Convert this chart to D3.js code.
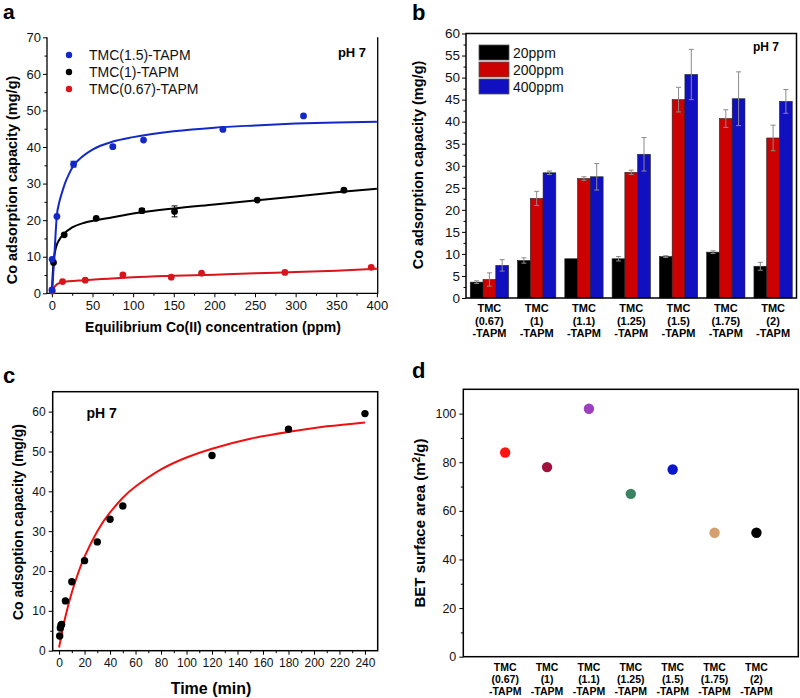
<!DOCTYPE html>
<html><head><meta charset="utf-8">
<script src="https://cdn.jsdelivr.net/npm/d3@7"></script>
<style>body{margin:0;background:#fff} svg text{font-family:Arial,"Liberation Sans",Helvetica,sans-serif}</style>
</head><body><svg id="chart" width="800" height="698"></svg>
<script>
// ---------------- DATA ----------------
// Panel a: adsorption isotherms
const isoNames = ["TMC(1.5)-TAPM", "TMC(1)-TAPM", "TMC(0.67)-TAPM"];
const isoBlueC = [0.1, 0.3, 6.2, 26.7, 75, 112.8, 210.5, 309.7];
const isoBlueQ = [0.9, 9.3, 21.0, 35.3, 40.1, 41.9, 44.8, 48.5];
const isoBlueErr = [0, 0, 0, 0.8, 0.4, 0, 0.3, 0];
const isoBlackC = [2, 15.2, 54.6, 110.8, 151, 252.7, 359.4];
const isoBlackQ = [8.4, 16.0, 20.5, 22.6, 22.4, 25.5, 28.2];
const isoBlackErr = [0, 0, 0, 0.6, 1.5, 0, 0];
const isoRedC = [0.5, 13.1, 41, 87.4, 146.9, 184.2, 286.8, 393];
const isoRedQ = [0.6, 3.2, 3.6, 5.0, 4.4, 5.5, 5.7, 7.1];
// fitted curves
const fitBlueC = [0, 1, 3, 6, 9, 12, 16, 21, 27, 35, 50, 75, 100, 150, 200, 250, 300, 350, 400];
const fitBlueQ = [0, 3, 10, 21, 24.8, 27.2, 30.0, 32.6, 35.0, 36.9, 39.3, 41.5, 42.7, 44.3, 45.3, 45.9, 46.4, 46.7, 46.9];
const fitBlackC = [0, 1, 2, 4, 6, 9, 15, 25, 40, 55, 75, 100, 150, 200, 250, 300, 350, 400];
const fitBlackQ = [0, 5, 8.5, 11.5, 13.2, 14.6, 16.3, 18.0, 19.3, 20.0, 20.8, 21.8, 23.2, 24.3, 25.4, 26.5, 27.6, 28.6];
const fitRedC = [0, 2, 5, 9, 13, 20, 40, 70, 100, 150, 200, 250, 300, 350, 400];
const fitRedQ = [0, 1.3, 2.2, 2.8, 3.1, 3.3, 3.6, 4.0, 4.4, 4.8, 5.1, 5.5, 5.8, 6.2, 6.7];
const isoXTicks = [0, 50, 100, 150, 200, 250, 300, 350, 400];
const isoYTicks = [0, 10, 20, 30, 40, 50, 60, 70];

// Panel b: bar chart
const samples = ["TMC (0.67) -TAPM", "TMC (1) -TAPM", "TMC (1.1) -TAPM", "TMC (1.25) -TAPM", "TMC (1.5) -TAPM", "TMC (1.75) -TAPM", "TMC (2) -TAPM"];
const concNames = ["20ppm", "200ppm", "400ppm"];
const bar20 = [3.6, 8.5, 8.9, 8.9, 9.4, 10.4, 7.2];
const bar20Err = [0.3, 0.6, 0, 0.5, 0.2, 0.3, 0.9];
const bar200 = [4.2, 22.6, 27.1, 28.5, 45.0, 40.7, 36.3];
const bar200Err = [1.5, 1.6, 0.4, 0.5, 2.8, 2.0, 2.9];
const bar400 = [7.4, 28.4, 27.5, 32.6, 50.7, 45.2, 44.6];
const bar400Err = [1.3, 0.4, 3.0, 3.8, 5.7, 6.1, 2.7];
const barYTicks = [0, 5, 10, 15, 20, 25, 30, 35, 40, 45, 50, 55, 60];

// Panel c: kinetics
const kinT = [0.5, 1, 1.5, 2, 5, 10, 20, 30, 40, 50, 120, 180, 240];
const kinQ = [3.7, 5.7, 6.4, 6.6, 12.5, 17.3, 22.6, 27.3, 33.0, 36.3, 49.0, 55.6, 59.5];
const kinFitT = [0, 2, 5, 10, 15, 20, 30, 40, 50, 60, 80, 100, 120, 150, 180, 210, 240];
const kinFitQ = [0.8, 4.2, 8.6, 14.6, 19.5, 23.6, 30.0, 34.7, 38.4, 41.2, 45.5, 48.5, 50.7, 53.2, 54.9, 56.3, 57.3];
const kinXTicks = [0, 20, 40, 60, 80, 100, 120, 140, 160, 180, 200, 220, 240];
const kinYTicks = [0, 10, 20, 30, 40, 50, 60];

// Panel d: BET surface area
const betVals = [84, 78, 102, 67, 77, 51, 51];
const betYTicks = [0, 20, 40, 60, 80, 100];

// ---------------- STYLE ----------------
const FONT = 'Arial, "Liberation Sans", Helvetica, sans-serif';
const BLUE = "#1428c8", RED = "#d8141c", BLK = "#000";
const barColors = ["#000000", "#cc0000", "#1010c0"];
const betColors = ["#ff1212", "#a2103c", "#9c40c0", "#3a8262", "#0a16c8", "#d4a070", "#000000"];

const svg = d3.select("#chart");

function axis(g, scale, orient, majors, minors, opt) {
  const mk = orient === "left" ? d3.axisLeft : d3.axisBottom;
  const ax = g.append("g").attr("transform", opt.t);
  if (minors && minors.length) ax.append("g").call(mk(scale).tickValues(minors).tickSizeOuter(0).tickSize(opt.minor || 2.5).tickFormat(""));
  ax.append("g").call(mk(scale).tickValues(majors).tickSizeOuter(0).tickSize(opt.major || 5).tickPadding(opt.pad || 2).tickFormat(d3.format("d")));
  ax.selectAll(".domain").remove();
  ax.selectAll("line").attr("stroke", "#000").attr("stroke-width", 1);
  ax.selectAll("text").attr("font-size", opt.fs).attr("font-family", FONT).attr("fill", "#111");
  return ax;
}
function mids(t) { const r = []; for (let i = 0; i < t.length - 1; i++) r.push((t[i] + t[i + 1]) / 2); return r; }
function label(x, y, txt, size, rotate, anchor) {
  const t = svg.append("text").attr("font-family", FONT).attr("font-weight", "bold").attr("font-size", size)
    .attr("text-anchor", anchor || "middle").attr("fill", "#000").text(txt);
  if (rotate) t.attr("transform", `translate(${x},${y}) rotate(-90)`); else t.attr("x", x).attr("y", y);
  return t;
}

// ---------------- PANEL A ----------------
{
  const xA = d3.scaleLinear([-6, 401], [47, 377.7]);
  const yA = d3.scaleLinear([0, 70], [293.3, 37.3]);
  const g = svg.append("g");
  axis(g, yA, "left", isoYTicks, mids(isoYTicks), { t: "translate(47,0)", fs: 13, major: 4, minor: 2.5 });
  axis(g, xA, "bottom", isoXTicks, mids(isoXTicks), { t: "translate(0,293.3)", fs: 13, major: 4, minor: 2.5, pad: 3 });
  g.append("path").attr("d", `M47,37.3V293.3H377.7V37.3`).attr("fill", "none").attr("stroke", "#000").attr("stroke-width", 1.3);

  const line = d3.line().x(d => xA(d[0])).y(d => yA(d[1])).curve(d3.curveMonotoneX);
  const fits = [[fitRedC, fitRedQ, RED], [fitBlackC, fitBlackQ, BLK], [fitBlueC, fitBlueQ, BLUE]];
  fits.forEach(([c, q, col]) => g.append("path").datum(d3.zip(c, q)).attr("d", line)
    .attr("fill", "none").attr("stroke", col).attr("stroke-width", 2));

  const sets = [[isoRedC, isoRedQ, null, RED], [isoBlackC, isoBlackQ, isoBlackErr, BLK], [isoBlueC, isoBlueQ, isoBlueErr, BLUE]];
  sets.forEach(([c, q, e, col]) => {
    const pts = c.map((v, i) => ({ c: v, q: q[i], e: e ? e[i] : 0 }));
    pts.filter(p => p.e > 0).forEach(p => {
      const x = xA(p.c), y1 = yA(p.q - p.e), y2 = yA(p.q + p.e);
      g.append("path").attr("d", `M${x},${y1}V${y2}M${x - 3},${y1}H${x + 3}M${x - 3},${y2}H${x + 3}`)
        .attr("stroke", col).attr("stroke-width", 1).attr("fill", "none");
    });
    g.selectAll(null).data(pts).enter().append("circle")
      .attr("cx", p => xA(p.c)).attr("cy", p => yA(p.q)).attr("r", 3.4).attr("fill", col);
  });

  const legCols = [BLUE, BLK, RED];
  isoNames.forEach((n, i) => {
    const y = 55 + i * 17;
    g.append("circle").attr("cx", 69).attr("cy", y).attr("r", 3.2).attr("fill", legCols[i]);
    g.append("text").attr("x", 89).attr("y", y + 5).attr("font-size", 14).attr("font-family", FONT).attr("fill", "#111").text(n);
  });
  label(352, 57, "pH 7", 13);
  label(213, 332, "Equilibrium Co(II) concentration (ppm)", 14);
  label(17, 180, "Co adsorption capacity (mg/g)", 14.5, true);
  label(3, 18.5, "a", 21, false, "start");
}

// ---------------- PANEL B ----------------
{
  const xB = d3.scaleBand(samples, [466, 796.5]).paddingInner(0.19).paddingOuter(0.09);
  const sub = d3.scaleBand(concNames, [0, xB.bandwidth()]);
  const yB = d3.scaleLinear([0, 60], [298, 33.5]);
  const g = svg.append("g");
  const series = [[bar20, bar20Err], [bar200, bar200Err], [bar400, bar400Err]];
  series.forEach(([vals, errs], k) => {
    const data = samples.map((s, i) => ({ s, v: vals[i], e: errs[i] }));
    g.selectAll(null).data(data).enter().append("rect")
      .attr("x", d => xB(d.s) + sub(concNames[k])).attr("width", sub.bandwidth())
      .attr("y", d => yB(d.v)).attr("height", d => yB(0) - yB(d.v))
      .attr("fill", barColors[k]).attr("stroke", "#222").attr("stroke-width", 0.6);
    data.filter(d => d.e > 0).forEach(d => {
      const x = xB(d.s) + sub(concNames[k]) + sub.bandwidth() / 2;
      const y1 = yB(d.v - d.e), y2 = yB(d.v + d.e);
      g.append("path").attr("d", `M${x},${y1}V${y2}M${x - 2.5},${y1}H${x + 2.5}M${x - 2.5},${y2}H${x + 2.5}`)
        .attr("stroke", "#8a8a8a").attr("stroke-width", 1).attr("fill", "none");
    });
  });
  axis(g, yB, "left", barYTicks, mids(barYTicks), { t: "translate(466,0)", fs: 13.5, major: 4, minor: 2.5 });
  g.append("rect").attr("x", 466).attr("y", 33.5).attr("width", 330.5).attr("height", 264.5)
    .attr("fill", "none").attr("stroke", "#000").attr("stroke-width", 1.5);
  samples.forEach(s => {
    const cx = xB(s) + xB.bandwidth() / 2;
    s.split(" ").forEach((ln, j) => {
      g.append("text").attr("x", cx).attr("y", 312.3 + j * 12.5).attr("text-anchor", "middle")
        .attr("font-size", 11).attr("font-weight", "bold").attr("font-family", FONT).text(ln);
    });
  });
  concNames.forEach((n, i) => {
    const y = 45 + i * 17;
    g.append("rect").attr("x", 479).attr("y", y).attr("width", 30).attr("height", 15)
      .attr("fill", barColors[i]).attr("stroke", "#555").attr("stroke-width", 0.8);
    g.append("text").attr("x", 513).attr("y", y + 12.5).attr("font-size", 14).attr("font-family", FONT).attr("fill", "#111").text(n);
  });
  label(766, 51, "pH 7", 12);
  label(423, 165, "Co adsorption capacity (mg/g)", 14.5, true);
  label(412, 20, "b", 22, false, "start");
}

// ---------------- PANEL C ----------------
{
  const xC = d3.scaleLinear([-5, 250], [52.7, 377.7]);
  const yC = d3.scaleLinear([0, 65], [650.7, 391.7]);
  const g = svg.append("g");
  axis(g, yC, "left", kinYTicks, mids(kinYTicks), { t: "translate(52.7,0)", fs: 12, major: 4, minor: 2.5, pad: 3 });
  axis(g, xC, "bottom", kinXTicks, mids(kinXTicks), { t: "translate(0,650.7)", fs: 12, major: 4, minor: 2.5, pad: 4 });
  g.append("rect").attr("x", 52.7).attr("y", 391.7).attr("width", 325).attr("height", 259)
    .attr("fill", "none").attr("stroke", "#000").attr("stroke-width", 1.5);
  const line = d3.line().x(d => xC(d[0])).y(d => yC(d[1])).curve(d3.curveNatural);
  g.append("path").datum(d3.zip(kinFitT, kinFitQ)).attr("d", line).attr("fill", "none").attr("stroke", "#f01010").attr("stroke-width", 2);
  g.selectAll(null).data(d3.zip(kinT, kinQ)).enter().append("circle")
    .attr("cx", d => xC(d[0])).attr("cy", d => yC(d[1])).attr("r", 3.7).attr("fill", "#000");
  label(86.5, 418, "pH 7", 14, false, "start");
  label(211, 694, "Time (min)", 16);
  label(23, 522, "Co adsoption capacity (mg/g)", 14, true);
  label(3, 383, "c", 22, false, "start");
}

// ---------------- PANEL D ----------------
{
  const xD = d3.scalePoint(samples, [463.3, 798.3]).padding(1);
  const yD = d3.scaleLinear([0, 110], [656.7, 389.3]);
  const g = svg.append("g");
  axis(g, yD, "left", betYTicks, mids(betYTicks), { t: "translate(463.3,0)", fs: 12.5, major: 4, minor: 2.5, pad: 3 });
  g.append("rect").attr("x", 463.3).attr("y", 389.3).attr("width", 335).attr("height", 267.4)
    .attr("fill", "none").attr("stroke", "#000").attr("stroke-width", 1.5);
  g.selectAll(null).data(samples.map((s, i) => ({ s, v: betVals[i], c: betColors[i] }))).enter().append("circle")
    .attr("cx", d => xD(d.s)).attr("cy", d => yD(d.v)).attr("r", 5.2).attr("fill", d => d.c);
  samples.forEach(s => {
    s.split(" ").forEach((ln, j) => {
      g.append("text").attr("x", xD(s)).attr("y", 671 + j * 12).attr("text-anchor", "middle")
        .attr("font-size", 10.5).attr("font-weight", "bold").attr("font-family", FONT).text(ln);
    });
  });
  const t = label(425, 523, "", 15, true);
  t.append("tspan").text("BET surface area (m");
  t.append("tspan").attr("font-size", 10).attr("dy", -5).text("2");
  t.append("tspan").attr("dy", 5).text("/g)");
  label(412, 378, "d", 22, false, "start");
}
</script></body></html>
